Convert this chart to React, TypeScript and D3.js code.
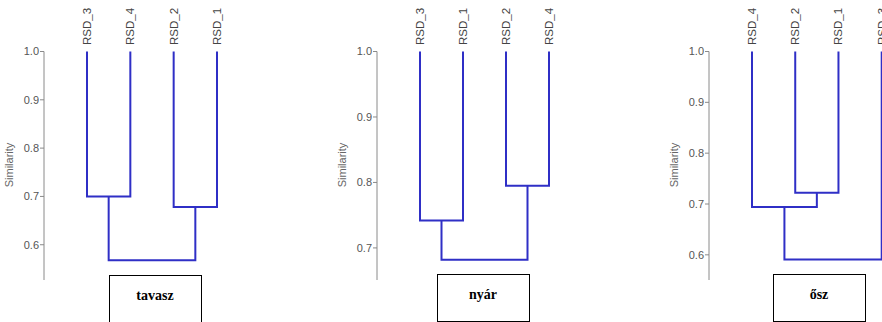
import React from "react";
import * as d3 from "d3";

const panelTitles = ["tavasz", "nyár", "ősz"];
const leaves1 = ["RSD_3", "RSD_4", "RSD_2", "RSD_1"];
const leaves2 = ["RSD_3", "RSD_1", "RSD_2", "RSD_4"];
const leaves3 = ["RSD_4", "RSD_2", "RSD_1", "RSD_3"];
// merges: [childA, childB, similarity]; leaves are nodes 0..3, merges are 4..6
const merges1: [number, number, number][] = [[0, 1, 0.70], [2, 3, 0.678], [4, 5, 0.568]];
const merges2: [number, number, number][] = [[0, 1, 0.742], [2, 3, 0.795], [4, 5, 0.682]];
const merges3: [number, number, number][] = [[1, 2, 0.722], [0, 4, 0.694], [5, 3, 0.591]];
const ticks1 = [0.6, 0.7, 0.8, 0.9, 1.0];
const ticks2 = [0.7, 0.8, 0.9, 1.0];
const ticks3 = [0.6, 0.7, 0.8, 0.9, 1.0];
const domains: [number, number][] = [[0.527, 1.0], [0.651, 1.0], [0.5505, 1.0]];

const layout = [
  { axisX: 44, leafRange: [87, 217], box: [109, 275] },
  { axisX: 377, leafRange: [420, 549], box: [437, 274] },
  { axisX: 709, leafRange: [752, 881.7], box: [773, 274] },
];

const LINE = "#2f2fc6";
const AX = "#8a8a8a";

function Panel({ idx, leaves, merges, ticks, domain }: any) {
  const L = layout[idx];
  const y = d3.scaleLinear().domain(domain).range([280, 51.5]);
  const x = d3.scalePoint<string>().domain(leaves).range(L.leafRange as [number, number]);
  const nodeX: number[] = leaves.map((l: string) => x(l)!);
  const nodeH: number[] = leaves.map(() => 1.0);
  const paths: string[] = [];
  merges.forEach(([a, b, h]: [number, number, number]) => {
    const xa = nodeX[a], xb = nodeX[b];
    const p = d3.path();
    p.moveTo(xa, y(nodeH[a]));
    p.lineTo(xa, y(h));
    p.lineTo(xb, y(h));
    p.lineTo(xb, y(nodeH[b]));
    paths.push(p.toString());
    nodeX.push((xa + xb) / 2);
    nodeH.push(h);
  });
  const [bx, by] = L.box;
  return (
    <g>
      <line x1={L.axisX} x2={L.axisX} y1={y(domain[1])} y2={y(domain[0])} stroke={AX} strokeWidth={1} />
      {ticks.map((t: number) => (
        <g key={t}>
          <line x1={L.axisX - 4} x2={L.axisX} y1={y(t)} y2={y(t)} stroke={AX} />
          <text x={L.axisX - 5} y={y(t)} dy="0.35em" textAnchor="end" fontSize={11} fill="#555" fontFamily="Liberation Sans, Arial, sans-serif">
            {d3.format(".1f")(t)}
          </text>
        </g>
      ))}
      <text transform={`translate(${L.axisX - 31},165) rotate(-90)`} textAnchor="middle" fontSize={11} fill="#666" fontFamily="Liberation Sans, Arial, sans-serif">
        Similarity
      </text>
      {leaves.map((l: string) => (
        <text key={l} transform={`translate(${x(l)! + 4},45) rotate(-90)`} textAnchor="start" fontSize={11.5} fill="#444" fontFamily="Liberation Sans, Arial, sans-serif">
          {l}
        </text>
      ))}
      {paths.map((d, i) => (
        <path key={i} d={d} fill="none" stroke={LINE} strokeWidth={2} />
      ))}
      <rect x={bx + 0.5} y={by + 0.5} width={92} height={47} fill="#fff" stroke="#000" strokeWidth={1} />
      <text x={bx + 46} y={by + 20} dy="0.35em" textAnchor="middle" fontSize={14} fontWeight="bold" fontFamily="Liberation Serif, DejaVu Serif, serif" fill="#000">
        {panelTitles[idx]}
      </text>
    </g>
  );
}

export default function App() {
  return (
    <svg width={882} height={322} style={{ position: "absolute", left: 0, top: 0, background: "#fff" }}>
      <rect width={882} height={322} fill="#fff" />
      <Panel idx={0} leaves={leaves1} merges={merges1} ticks={ticks1} domain={domains[0]} />
      <Panel idx={1} leaves={leaves2} merges={merges2} ticks={ticks2} domain={domains[1]} />
      <Panel idx={2} leaves={leaves3} merges={merges3} ticks={ticks3} domain={domains[2]} />
    </svg>
  );
}
